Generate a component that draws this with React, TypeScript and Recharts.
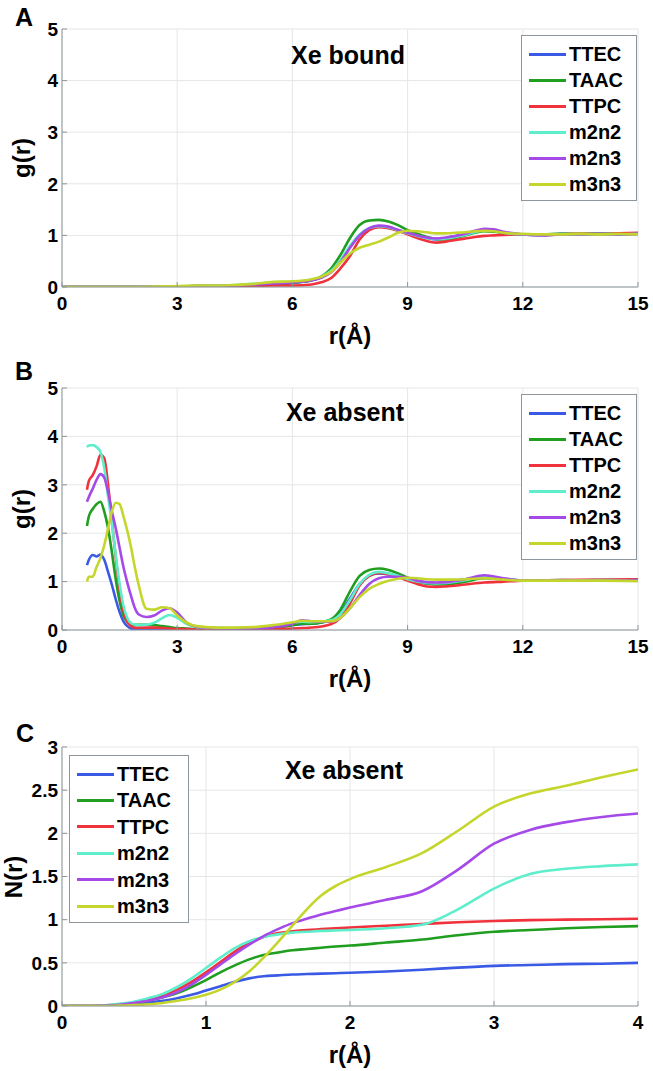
import React from 'react';
import { LineChart, Line, XAxis, YAxis, CartesianGrid } from 'recharts';

const FONT = '"Liberation Sans", Arial, Helvetica, sans-serif';
const AXIS_GREY = '#8e959b';

const seriesNames = ['TTEC', 'TAAC', 'TTPC', 'm2n2', 'm2n3', 'm3n3'];
const seriesColors = ['#3a5ae6', '#1f9e1f', '#f0323c', '#5eeecb', '#a54ae8', '#c4d62c'];

// ---- panel A: Xe bound, g(r)
const rA = [0, 1, 2, 3, 3.5, 4, 4.5, 5, 5.5, 6, 6.5, 6.75, 7, 7.25, 7.5, 7.75, 8, 8.25, 8.5, 8.75, 9, 9.25, 9.5, 9.75, 10, 10.25, 10.5, 10.75, 11, 11.25, 11.5, 12, 12.5, 13, 13.5, 14, 14.5, 15];
const aTTEC = [0, 0, 0, 0.01, 0.02, 0.02, 0.03, 0.04, 0.06, 0.08, 0.13, 0.19, 0.3, 0.5, 0.77, 1.0, 1.13, 1.17, 1.15, 1.1, 1.05, 1.0, 0.95, 0.92, 0.95, 0.99, 1.03, 1.08, 1.11, 1.09, 1.05, 1.02, 1.01, 1.03, 1.02, 1.03, 1.02, 1.03];
const aTAAC = [0, 0, 0, 0.01, 0.02, 0.02, 0.03, 0.04, 0.06, 0.08, 0.13, 0.2, 0.35, 0.62, 0.95, 1.2, 1.29, 1.3, 1.27, 1.2, 1.1, 1.03, 0.97, 0.93, 0.92, 0.95, 1.0, 1.05, 1.08, 1.07, 1.05, 1.02, 1.02, 1.03, 1.03, 1.04, 1.03, 1.04];
const aTTPC = [0, 0, 0, 0, 0.01, 0.01, 0.015, 0.02, 0.03, 0.03, 0.05, 0.09, 0.17, 0.36, 0.6, 0.92, 1.1, 1.16, 1.14, 1.09, 1.02, 0.95, 0.89, 0.86, 0.88, 0.91, 0.94, 0.97, 0.99, 1.0, 1.01, 1.02, 1.01, 1.02, 1.03, 1.03, 1.04, 1.05];
const aM2N2 = [0, 0, 0, 0.01, 0.02, 0.03, 0.04, 0.06, 0.09, 0.1, 0.14, 0.2, 0.31, 0.52, 0.8, 1.02, 1.14, 1.18, 1.16, 1.1, 1.04, 0.99, 0.95, 0.93, 0.94, 0.97, 1.01, 1.06, 1.1, 1.09, 1.05, 1.02, 1.01, 1.02, 1.02, 1.03, 1.02, 1.03];
const aM2N3 = [0, 0, 0, 0.01, 0.02, 0.02, 0.03, 0.05, 0.07, 0.09, 0.13, 0.18, 0.28, 0.48, 0.76, 1.0, 1.14, 1.19, 1.17, 1.11, 1.05, 1.0, 0.96, 0.94, 0.96, 0.99, 1.03, 1.09, 1.13, 1.12, 1.07, 1.02, 1.0, 1.02, 1.02, 1.03, 1.02, 1.03];
const aM3N3 = [0, 0, 0, 0.02, 0.03, 0.03, 0.04, 0.06, 0.1, 0.11, 0.15, 0.2, 0.29, 0.47, 0.65, 0.76, 0.82, 0.88, 0.96, 1.05, 1.09, 1.08, 1.06, 1.04, 1.04, 1.05, 1.06, 1.08, 1.09, 1.08, 1.05, 1.03, 1.02, 1.02, 1.03, 1.02, 1.03, 1.02];

// ---- panel B: Xe absent, g(r)
const rB = [0.65, 0.7, 0.8, 0.9, 1.0, 1.1, 1.2, 1.3, 1.4, 1.5, 1.6, 1.7, 1.8, 1.9, 2.0, 2.2, 2.4, 2.6, 2.8, 3.0, 3.25, 3.5, 4, 4.5, 5, 5.5, 6, 6.25, 6.5, 7, 7.25, 7.5, 7.75, 8, 8.25, 8.5, 8.75, 9, 9.25, 9.5, 9.75, 10, 10.5, 11, 11.5, 12, 13, 14, 15];
const bTTEC = [1.34, 1.45, 1.55, 1.52, 1.56, 1.45, 1.2, 0.93, 0.63, 0.37, 0.18, 0.08, 0.03, 0.02, 0.01, 0.01, 0.01, 0.01, 0.01, 0.01, 0.01, 0.01, 0.01, 0.01, 0.02, 0.05, 0.1, 0.12, 0.13, 0.2, 0.35, 0.65, 0.95, 1.12, 1.17, 1.15, 1.1, 1.04, 0.99, 0.96, 0.95, 0.96, 1.02, 1.1, 1.05, 1.02, 1.02, 1.03, 1.03];
const bTAAC = [2.15, 2.35, 2.5, 2.6, 2.65, 2.45, 2.1, 1.6, 1.05, 0.6, 0.3, 0.17, 0.12, 0.11, 0.11, 0.11, 0.1, 0.08, 0.06, 0.04, 0.03, 0.02, 0.02, 0.02, 0.03, 0.05, 0.1, 0.13, 0.13, 0.22, 0.42, 0.8, 1.12, 1.24, 1.27, 1.24, 1.17, 1.08, 1.0, 0.96, 0.94, 0.94, 1.0, 1.07, 1.05, 1.02, 1.03, 1.02, 1.03];
const bTTPC = [2.9, 3.08, 3.2, 3.38, 3.62, 3.55, 3.0, 2.25, 1.5, 0.85, 0.4, 0.17, 0.08, 0.05, 0.05, 0.05, 0.05, 0.04, 0.03, 0.02, 0.02, 0.01, 0.01, 0.01, 0.01, 0.02, 0.03, 0.04, 0.05, 0.12, 0.25, 0.55, 0.92, 1.12, 1.18, 1.15, 1.1, 1.02, 0.95, 0.9, 0.89, 0.9, 0.94, 0.98, 1.0, 1.02, 1.03, 1.04, 1.05];
const bM2N2 = [3.78, 3.81, 3.82, 3.78, 3.68, 3.35, 2.75, 2.2, 1.55, 0.95, 0.5, 0.25, 0.14, 0.11, 0.1, 0.11, 0.15, 0.24, 0.31, 0.25, 0.12, 0.06, 0.04, 0.04, 0.05, 0.08, 0.15, 0.17, 0.16, 0.2, 0.33, 0.62, 0.95, 1.14, 1.2, 1.17, 1.12, 1.05, 1.0, 0.97, 0.96, 0.97, 1.03, 1.1, 1.06, 1.02, 1.02, 1.03, 1.02];
const bM2N3 = [2.65, 2.75, 2.92, 3.1, 3.22, 3.15, 2.85, 2.45, 2.1, 1.7, 1.3, 0.98, 0.7, 0.45, 0.32, 0.27, 0.3, 0.4, 0.45, 0.36, 0.15, 0.07, 0.04, 0.03, 0.03, 0.06, 0.13, 0.2, 0.18, 0.17, 0.25, 0.45, 0.72, 0.95, 1.07, 1.1, 1.1, 1.08, 1.02, 0.99, 0.98, 0.99, 1.05, 1.13, 1.07, 1.02, 1.02, 1.02, 1.03];
const bM3N3 = [1.0, 1.1, 1.1, 1.3, 1.48, 1.75, 2.1, 2.45, 2.63, 2.6, 2.35, 2.05, 1.7, 1.28, 0.92, 0.44, 0.42, 0.47, 0.45, 0.3, 0.15, 0.08, 0.05, 0.05, 0.06, 0.1, 0.16, 0.19, 0.18, 0.18, 0.25, 0.45, 0.68, 0.85, 0.95, 1.02, 1.06, 1.08, 1.07, 1.05, 1.04, 1.04, 1.05, 1.07, 1.04, 1.02, 1.02, 1.02, 1.01];

// ---- panel C: Xe absent, N(r)
const rC = [0, 0.1, 0.2, 0.3, 0.4, 0.5, 0.6, 0.7, 0.8, 0.9, 1.0, 1.1, 1.2, 1.3, 1.4, 1.5, 1.6, 1.7, 1.8, 1.9, 2.0, 2.25, 2.5, 2.75, 3.0, 3.25, 3.5, 3.75, 4.0];
const cTTEC = [0, 0, 0, 0.005, 0.01, 0.02, 0.04, 0.06, 0.09, 0.13, 0.18, 0.23, 0.28, 0.32, 0.345, 0.355, 0.365, 0.37, 0.375, 0.38, 0.385, 0.4, 0.42, 0.445, 0.465, 0.475, 0.485, 0.49, 0.5];
const cTAAC = [0, 0, 0, 0.005, 0.015, 0.03, 0.06, 0.1, 0.15, 0.22, 0.3, 0.39, 0.47, 0.54, 0.59, 0.62, 0.645, 0.66, 0.675, 0.69, 0.7, 0.735, 0.77, 0.82, 0.86, 0.88, 0.9, 0.915, 0.925];
const cTTPC = [0, 0, 0, 0.005, 0.02, 0.04, 0.07, 0.12, 0.19, 0.28, 0.39, 0.51, 0.63, 0.73, 0.8, 0.845, 0.865, 0.88, 0.89, 0.9, 0.91, 0.93, 0.95, 0.97, 0.985, 0.995, 1.0, 1.005, 1.01];
const cM2N2 = [0, 0, 0, 0.008, 0.025, 0.05, 0.09, 0.14, 0.22, 0.32, 0.44, 0.56, 0.67, 0.75, 0.8, 0.83, 0.85, 0.86, 0.87, 0.875, 0.88, 0.9, 0.94, 1.12, 1.36, 1.53, 1.59, 1.62, 1.64];
const cM2N3 = [0, 0, 0, 0.005, 0.015, 0.035, 0.06, 0.1, 0.16, 0.25, 0.36, 0.48, 0.6, 0.71, 0.81, 0.89, 0.96, 1.01, 1.06, 1.1, 1.14, 1.23, 1.33, 1.58, 1.88, 2.04, 2.13, 2.19, 2.23];
const cM3N3 = [0, 0, 0, 0, 0.005, 0.01, 0.02, 0.035, 0.06, 0.09, 0.13, 0.19, 0.28, 0.4, 0.56, 0.74, 0.93, 1.12, 1.28, 1.39, 1.47, 1.61, 1.77, 2.03, 2.31, 2.46, 2.55, 2.65, 2.74];

const gTicksX = [0, 3, 6, 9, 12, 15];
const gTicksY = [0, 1, 2, 3, 4, 5];
const nTicksX = [0, 1, 2, 3, 4];
const nTicksY = [0, 0.5, 1, 1.5, 2, 2.5, 3];

function buildRows(r: number[], cols: number[][]) {
  return r.map((x, i) => {
    const row: Record<string, number> = { r: x };
    seriesNames.forEach((n, j) => { row[n] = cols[j][i]; });
    return row;
  });
}

const tickStyle = { fontSize: 19, fontWeight: 700, fill: '#000', fontFamily: FONT };

const boldText: React.CSSProperties = {
  position: 'absolute',
  fontFamily: FONT,
  fontWeight: 700,
  color: '#000',
  lineHeight: 1,
  whiteSpace: 'nowrap',
  transform: 'translate(-50%, -50%)',
};

interface PanelProps {
  top: number;
  height: number;
  plotTop: number;
  plotBottom: number;
  data: Record<string, number>[];
  xDomain: [number, number];
  xTicks: number[];
  yDomain: [number, number];
  yTicks: number[];
  letter: string;
  letterPos: [number, number];
  title: string;
  titlePos: [number, number];
  yLabel: string;
  yLabelX: number;
  legendPos: [number, number];
  legendWidth: number;
  rowGap: number;
}

function Panel(p: PanelProps) {
  const plotH = p.plotBottom - p.plotTop;
  return (
    <div style={{ position: 'absolute', left: 0, top: p.top, width: 653, height: p.height }}>
      <LineChart
        width={653}
        height={p.height}
        data={p.data}
        margin={{ top: p.plotTop, right: 15, bottom: 0, left: 0 }}
      >
        <CartesianGrid stroke="#e4e6e8" strokeWidth={1} />
        <XAxis
          dataKey="r"
          type="number"
          domain={p.xDomain}
          ticks={p.xTicks}
          allowDataOverflow
          height={p.height - p.plotBottom}
          stroke={AXIS_GREY}
          tickSize={-5}
          tickMargin={15}
          tick={tickStyle}
        />
        <XAxis
          xAxisId="top"
          orientation="top"
          type="number"
          domain={p.xDomain}
          ticks={p.xTicks}
          allowDataOverflow
          height={0}
          stroke={AXIS_GREY}
          tickSize={-5}
          tick={false}
        />
        <YAxis
          type="number"
          domain={p.yDomain}
          ticks={p.yTicks}
          allowDataOverflow
          width={62}
          stroke={AXIS_GREY}
          tickSize={-5}
          tickMargin={9}
          tick={tickStyle}
        />
        <YAxis
          yAxisId="right"
          orientation="right"
          type="number"
          domain={p.yDomain}
          ticks={p.yTicks}
          allowDataOverflow
          width={0}
          stroke={AXIS_GREY}
          tickSize={-5}
          tick={false}
        />
        {seriesNames.map((n, i) => (
          <Line
            key={n}
            dataKey={n}
            name={n}
            type="monotone"
            stroke={seriesColors[i]}
            strokeWidth={2.6}
            dot={false}
            activeDot={false}
            isAnimationActive={false}
          />
        ))}
      </LineChart>

      <div style={{ ...boldText, left: p.letterPos[0], top: p.letterPos[1], fontSize: 25 }}>{p.letter}</div>
      <div style={{ ...boldText, left: p.titlePos[0], top: p.titlePos[1], fontSize: 25 }}>{p.title}</div>
      <div
        style={{
          ...boldText,
          left: p.yLabelX,
          top: p.plotTop + plotH / 2,
          fontSize: 24,
          transform: 'translate(-50%, -50%) rotate(-90deg)',
        }}
      >
        {p.yLabel}
      </div>
      <div style={{ ...boldText, left: 350, top: p.plotBottom + 49, fontSize: 24 }}>r(Å)</div>

      <div
        style={{
          position: 'absolute',
          left: p.legendPos[0],
          top: p.legendPos[1],
          width: p.legendWidth,
          height: 5 + seriesNames.length * p.rowGap + 5,
          background: '#fff',
          border: `1px solid ${AXIS_GREY}`,
          boxSizing: 'border-box',
        }}
      >
        {seriesNames.map((n, i) => (
          <div
            key={n}
            style={{
              position: 'absolute',
              left: 7,
              top: 18 + i * p.rowGap,
              transform: 'translateY(-50%)',
              display: 'flex',
              alignItems: 'center',
            }}
          >
            <span style={{ display: 'inline-block', width: 37, height: 3, background: seriesColors[i], marginRight: 3 }} />
            <span style={{ fontFamily: FONT, fontWeight: 700, fontSize: 20, lineHeight: 1, color: '#000' }}>{n}</span>
          </div>
        ))}
      </div>
    </div>
  );
}

const dataA = buildRows(rA, [aTTEC, aTAAC, aTTPC, aM2N2, aM2N3, aM3N3]);
const dataB = buildRows(rB, [bTTEC, bTAAC, bTTPC, bM2N2, bM2N3, bM3N3]);
const dataC = buildRows(rC, [cTTEC, cTAAC, cTTPC, cM2N2, cM2N3, cM3N3]);

export default function App() {
  return (
    <div style={{ position: 'absolute', left: 0, top: 0, width: 653, height: 1071, background: '#fff', overflow: 'hidden' }}>
      <Panel
        top={0}
        height={345}
        plotTop={29}
        plotBottom={287}
        data={dataA}
        xDomain={[0, 15]}
        xTicks={gTicksX}
        yDomain={[0, 5]}
        yTicks={gTicksY}
        letter="A"
        letterPos={[24, 17]}
        title="Xe bound"
        titlePos={[348, 55]}
        yLabel="g(r)"
        yLabelX={22}
        legendPos={[521, 35]}
        legendWidth={116}
        rowGap={26}
      />
      <Panel
        top={345}
        height={340}
        plotTop={43}
        plotBottom={285}
        data={dataB}
        xDomain={[0, 15]}
        xTicks={gTicksX}
        yDomain={[0, 5]}
        yTicks={gTicksY}
        letter="B"
        letterPos={[24, 26]}
        title="Xe absent"
        titlePos={[345, 67]}
        yLabel="g(r)"
        yLabelX={22}
        legendPos={[521, 49]}
        legendWidth={116}
        rowGap={26}
      />
      <Panel
        top={685}
        height={386}
        plotTop={62}
        plotBottom={321}
        data={dataC}
        xDomain={[0, 4]}
        xTicks={nTicksX}
        yDomain={[0, 3]}
        yTicks={nTicksY}
        letter="C"
        letterPos={[25, 48]}
        title="Xe absent"
        titlePos={[344, 85]}
        yLabel="N(r)"
        yLabelX={14}
        legendPos={[69, 70]}
        legendWidth={120}
        rowGap={26.4}
      />
    </div>
  );
}
